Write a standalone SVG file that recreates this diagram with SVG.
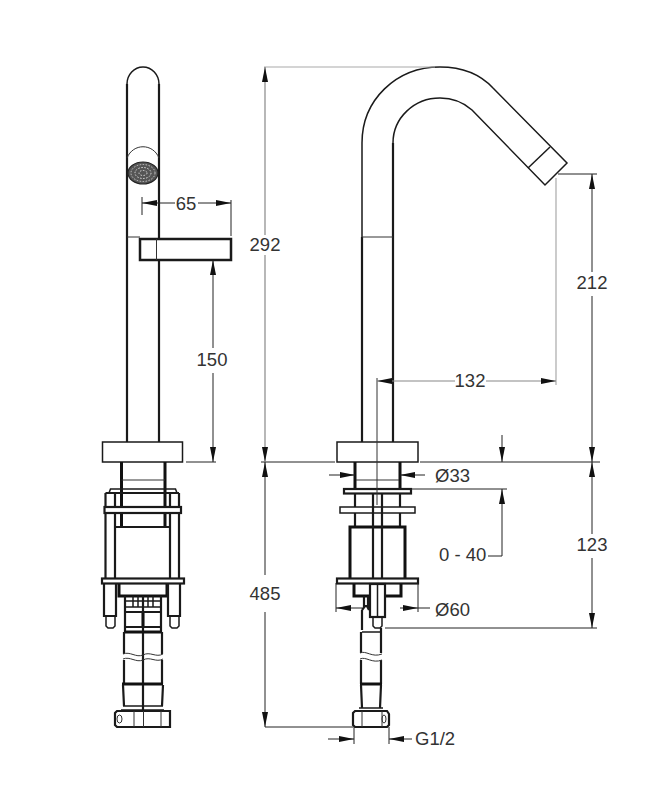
<svg xmlns="http://www.w3.org/2000/svg" width="671" height="806" viewBox="0 0 671 806">
<style>
.o{fill:none;stroke:#1a1a1a;stroke-width:2.2}
.m{fill:none;stroke:#1a1a1a;stroke-width:1.5}
.h{fill:none;stroke:#111;stroke-width:3}
.w{fill:#fff;stroke:#1a1a1a;stroke-width:2.2}
.t{fill:none;stroke:#333;stroke-width:1}
.g{fill:none;stroke:#aaa;stroke-width:1.2}
.d{fill:none;stroke:#222;stroke-width:1}
.a{fill:none;stroke:#222;stroke-width:1;marker-end:url(#ah)}
.b{fill:none;stroke:#888;stroke-width:1.2;marker-end:url(#ah)}
text{font-family:"Liberation Sans",Arial,sans-serif;font-size:18.500px;fill:#333}
</style>
<defs>
<marker id="ah" markerUnits="userSpaceOnUse" markerWidth="16" markerHeight="8" refX="15" refY="3.500" orient="auto"><path d="M0 0.500L15 3.500L0 6.500Z" fill="#111"/></marker>
</defs>
<rect width="671" height="806" fill="#fff"/>
<g id="side-view">
<path class="o" d="M127 442V84M159 84V238M159 260V442"/>
<path class="m" d="M127 84A16 17 0 0 1 159 84"/>
<path class="t" d="M127 158C133 143 153 143 159 158"/>
<g id="aerator">
<ellipse cx="143" cy="173" rx="15" ry="11" fill="#555" stroke="#222" stroke-width="1.200"/>
<ellipse cx="143" cy="173" rx="12" ry="8.500" fill="none" stroke="#ccc" stroke-width="1" stroke-dasharray="1.500 1.500"/>
<ellipse cx="143" cy="173" rx="8" ry="5.500" fill="none" stroke="#ddd" stroke-width="1" stroke-dasharray="1.500 1.500"/>
<ellipse cx="143" cy="173" rx="4" ry="2.500" fill="none" stroke="#ddd" stroke-width="1" stroke-dasharray="1.500 1.500"/>
</g>
<path class="t" d="M127 237H140"/>
<rect class="w" x="140" y="239" width="91" height="21" style="stroke-width:2.500"/>
<path class="t" d="M156.500 239V260"/>
<rect class="m" x="102.500" y="442" width="80" height="20"/>
<path class="h" d="M121.500 462V527M165 462V527"/>
<path class="t" d="M121.500 480H165"/>
<path class="m" d="M109 493L110.500 489H175.500L177 493"/>
<path class="o" d="M105.500 493H179M105.500 493V578M115 493V578M170 493V578M179 493V578"/>
<rect class="w" x="104.500" y="507" width="76.500" height="6"/>
<path class="o" d="M116 527H170"/>
<rect class="w" x="102" y="578.500" width="82" height="5"/>
<path class="h" d="M119 584V596H167V584"/>
<path class="o" d="M104 584V616H116V584M168 584V616H180V584"/>
<path class="m" d="M106 616V626L108 628H113L115 626V616M170 616V626L172 628H177L179 626V616"/>
<g id="side-hoses">
<path class="o" d="M125 596V632M143 596V710M161 596V632"/>
<path class="m" d="M125 601H161M125 607H161M133 596V607M138 596V607M148 596V607M153 596V607"/>
<path class="h" d="M143 611V628"/>
<path class="o" d="M125 612H161M124 627H162"/>
<path class="h" d="M124 632H162"/>
<path class="o" d="M124 632V654M162 632V654M124 660V684M162 660V684"/>
<path class="t" d="M123 654C130 651 136 658 143 655C150 651 156 658 163 654M123 659C130 656 136 663 143 660C150 656 156 663 163 659"/>
<path class="h" d="M122 684H163"/>
<path class="o" d="M123 685L124 706M163 685L162 706"/>
<path class="m" d="M123 706H163M121 710H164"/>
<path class="o" d="M117 711H170V727H117L115 725V713Z"/>
<path class="t" d="M134 711V727M143.500 711V727M161 711V727"/>
<ellipse class="t" cx="119.500" cy="719" rx="2.500" ry="4"/>
</g>
</g>
<g id="front-view">
<path class="m" d="M362 442V143C362 100 396 67 440 67C462 67 480 74 493 88L567 163L545 185L472 110C463 102 452 98 440 98C414 98 393 118 393 143V442"/>
<path class="m" d="M528 168L550 147"/>
<path class="o" d="M393 143V442M362 237V442"/>
<path class="t" d="M362 237H393"/>
<rect class="m" x="337" y="442" width="81" height="20"/>
<path class="h" d="M355 462V489M400 462V489"/>
<path class="t" d="M356 480H399"/>
<rect class="w" x="344" y="489" width="67" height="4.500"/>
<path class="o" d="M355 494V507M400 494V507M355 513V526M400 513V526"/>
<rect class="m" x="340" y="507" width="75" height="6"/>
<path class="h" d="M350 578V527H405V578"/>
<rect class="w" x="337" y="578.500" width="81" height="5"/>
<path class="h" d="M354 584V596H401V584"/>
<path class="o" d="M373 493V578M382 493V578"/>
<rect class="w" x="370" y="584" width="15" height="33"/>
<path class="m" d="M373 617V626L375 628H380L382 626V617M377.500 584V617"/>
<path class="o" d="M364 608V596M368 608V596"/>
<path class="o" d="M362 610L365 606H367L369 610M362 610V630M381 628V632"/>
<g id="front-hose">
<path class="m" d="M362 632H381"/>
<path class="o" d="M361 632V653M381 632V653M361 660V684M381 660V684"/>
<path class="t" d="M360 653C366 650 372 658 382 654M360 659C366 656 372 664 382 660"/>
<path class="h" d="M360 684H382"/>
<path class="o" d="M361 685L362 708M381 685L380 708"/>
<path class="m" d="M359 708H383"/>
<path class="o" d="M355 711H387L389 714V725L387 727H355L353 725V713Z"/>
<path class="t" d="M362 711V727M382 711V727"/>
<ellipse class="t" cx="384" cy="719" rx="2" ry="4"/>
</g>
</g>
<g id="connectors">
<path class="g" d="M264 67H435M556 178V385"/>
<path class="t" d="M377 378V505"/>
<path class="d" d="M186 462H216M261 462H335M420 462H600M558 174H597M385 628H597M411 489H507M265 727H353M142 197V215M231 200V236M336 583V612M418 583V612M354 727V744M389 727V744"/>
<path class="b" d="M265 235V67"/><path class="b" d="M265 255V462"/>
<path class="a" d="M265 575V462"/><path class="a" d="M265 612V727"/>
<path class="a" d="M175 203H142"/><path class="a" d="M198 203H231"/>
<path class="a" d="M213 348V260"/><path class="a" d="M213 373V462"/>
<path class="a" d="M592 272V174"/><path class="a" d="M592 296V462"/>
<path class="a" d="M592 534V462"/><path class="a" d="M592 558V628"/>
<path class="b" d="M455 381H377"/><path class="b" d="M486 381H556"/>
<path class="a" d="M502 435V462"/><path class="a" d="M502 556V489"/>
<path class="d" d="M502 556H488"/>
<path class="a" d="M329 475H355"/><path class="a" d="M425 475H400"/>
<path class="a" d="M362 608H336"/><path class="a" d="M400 608H418"/>
<path class="d" d="M418 608H430"/>
<path class="a" d="M328 739H354"/><path class="a" d="M412 739H389"/>
</g>
<g id="labels">
<text x="186" y="210" text-anchor="middle">65</text>
<text x="265" y="251" text-anchor="middle">292</text>
<text x="212" y="366" text-anchor="middle">150</text>
<text x="592" y="289" text-anchor="middle">212</text>
<text x="470" y="387" text-anchor="middle">132</text>
<text x="435" y="482">Ø33</text>
<text x="439" y="561">0 - 40</text>
<text x="592" y="551" text-anchor="middle">123</text>
<text x="265" y="600" text-anchor="middle">485</text>
<text x="435" y="616">Ø60</text>
<text x="415" y="745">G1/2</text>
</g>
</svg>
